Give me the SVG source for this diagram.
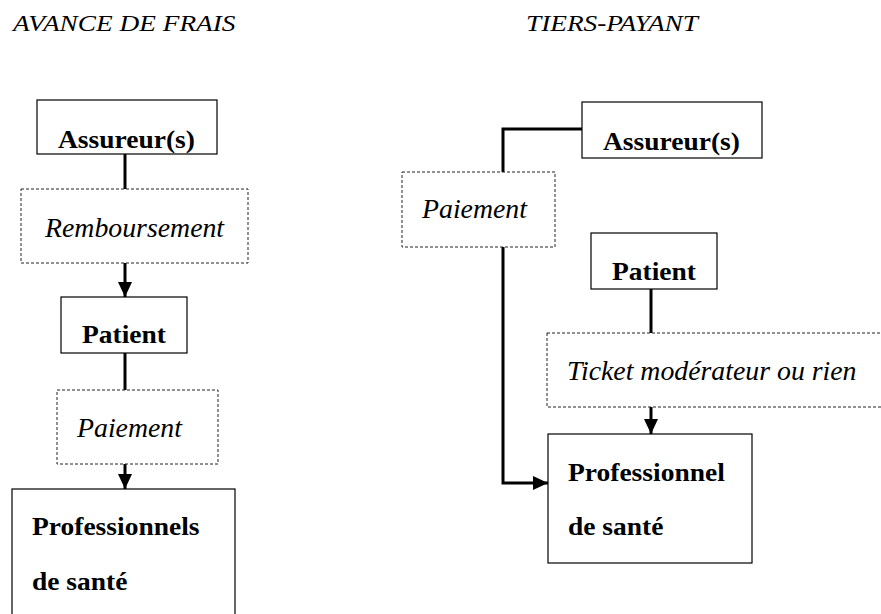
<svg xmlns="http://www.w3.org/2000/svg" width="881" height="614" viewBox="0 0 881 614">
<style>
.box{fill:#fff;stroke:#000;stroke-width:1.2}
.dbox{fill:#fff;stroke:#222;stroke-width:1;stroke-dasharray:3,2}
.b{font-family:"Liberation Serif","Times New Roman",serif;font-weight:bold;font-size:27.5px;fill:#000}
.i{font-family:"Liberation Serif","Times New Roman",serif;font-style:italic;font-size:27.8px;fill:#000}
.t{font-family:"Liberation Serif","Times New Roman",serif;font-style:italic;font-size:27.3px;fill:#000}
.c{fill:none;stroke:#000;stroke-width:3}
</style>
<defs>
<marker id="ah" markerUnits="userSpaceOnUse" markerWidth="16" markerHeight="14" refX="15" refY="7" orient="auto">
<path d="M0,0 L15,7 L0,14 z" fill="#000"/>
</marker>
</defs>
<text class="t" transform="translate(13,31) scale(1,0.88)">AVANCE DE FRAIS</text>
<text class="t" transform="translate(526,31) scale(1,0.88)">TIERS-PAYANT</text>
<g id="connectors">
<line class="c" x1="125" y1="154" x2="125" y2="189"/>
<line class="c" x1="125" y1="263" x2="125" y2="297" marker-end="url(#ah)"/>
<line class="c" x1="125" y1="353" x2="125" y2="390"/>
<line class="c" x1="125" y1="464" x2="125" y2="489" marker-end="url(#ah)"/>
<polyline class="c" points="582,129 503,129 503,172"/>
<polyline class="c" points="503,247 503,483 548,483" marker-end="url(#ah)"/>
<line class="c" x1="651" y1="289" x2="651" y2="333"/>
<line class="c" x1="651" y1="407" x2="651" y2="434" marker-end="url(#ah)"/>
</g>
<g id="left-assureur"><rect class="box" x="37" y="100" width="180" height="54"/><text class="b" transform="translate(58,148) scale(1,0.9)">Assureur(s)</text></g>
<g id="left-remboursement"><rect class="dbox" x="21" y="189" width="227" height="74"/><text class="i" x="45" y="237">Remboursement</text></g>
<g id="left-patient"><rect class="box" x="61" y="297" width="126" height="56"/><text class="b" transform="translate(82,343) scale(1,0.9)">Patient</text></g>
<g id="left-paiement"><rect class="dbox" x="57" y="390" width="161" height="74"/><text class="i" x="77" y="437">Paiement</text></g>
<g id="left-professionnels"><rect class="box" x="12" y="489" width="223" height="140"/><text class="b" transform="translate(32,535) scale(1,0.9)">Professionnels</text><text class="b" transform="translate(32,590) scale(1,0.9)">de santé</text></g>
<g id="right-assureur"><rect class="box" x="582" y="102" width="180" height="56"/><text class="b" transform="translate(603,150) scale(1,0.9)">Assureur(s)</text></g>
<g id="right-paiement"><rect class="dbox" x="402" y="172" width="153" height="75"/><text class="i" x="422" y="218">Paiement</text></g>
<g id="right-patient"><rect class="box" x="591" y="233" width="126" height="56"/><text class="b" transform="translate(612,280) scale(1,0.9)">Patient</text></g>
<g id="right-ticket"><rect class="dbox" x="547" y="333" width="350" height="74"/><text class="i" x="567" y="380">Ticket modérateur ou rien</text></g>
<g id="right-professionnel"><rect class="box" x="548" y="434" width="204" height="129"/><text class="b" transform="translate(568,481) scale(1,0.9)">Professionnel</text><text class="b" transform="translate(568,535) scale(1,0.9)">de santé</text></g>
</svg>
